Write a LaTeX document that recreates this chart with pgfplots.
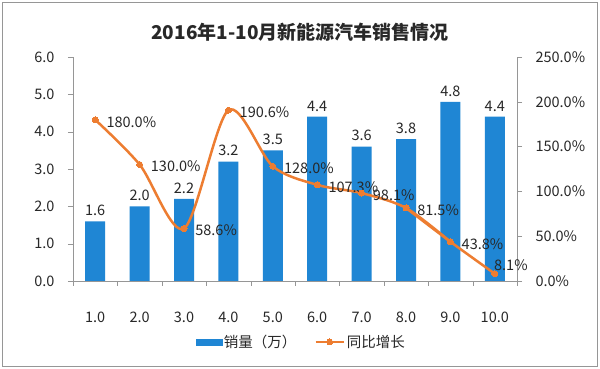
\documentclass[border=0pt]{standalone}
\usepackage{fontspec}
\setmainfont{Noto Sans CJK SC}
\usepackage{pgfplots}
\pgfplotsset{compat=1.18}
\definecolor{barblue}{RGB}{31,134,212}
\definecolor{lineorange}{RGB}{237,125,49}
\definecolor{axgray}{RGB}{150,150,150}
\definecolor{txt}{RGB}{40,40,40}
\begin{document}
\begin{tikzpicture}[x=1pt,y=1pt]
\fill[white] (0,0) rectangle (600,369);
\draw[axgray, line width=1.5pt] (2.5,2.5) rectangle (597.5,366.5);
\node[font=\bfseries\fontsize{19}{22}\selectfont, text=txt] at (300,337) {2016年1-10月新能源汽车销售情况};
\begin{axis}[
  at={(73pt,88pt)}, anchor=south west,
  scale only axis, width=444pt, height=224pt,
  xmin=0.5, xmax=10.5, ymin=0, ymax=6,
  axis y line*=left, axis x line*=bottom,
  axis line style={axgray},
  xtick={1,...,10},
  xticklabels={1.0,2.0,3.0,4.0,5.0,6.0,7.0,8.0,9.0,10.0},
  minor xtick={0.5,1.5,...,10.5},
  major x tick style={draw=none},
  minor tick length=5pt,
  minor x tick style={axgray},
  ytick={0,1,...,6},
  y tick style={axgray},
  major tick length=5pt,
  tick align=outside,
  yticklabel style={xshift=-10pt,/pgf/number format/.cd,fixed,fixed zerofill,precision=1},
  /pgf/number format/assume math mode=true,
  tick label style={font=\fontsize{14.5}{16}\selectfont, text=txt},
  xticklabel style={yshift=-22pt},
  ybar, bar width=20pt,
  nodes near coords,
  nodes near coords style={font=\fontsize{14.5}{16}\selectfont, text=txt, yshift=2pt, /pgf/number format/.cd,fixed,fixed zerofill,precision=1, /pgf/number format/assume math mode=true},
  clip=false,
]
\addplot[fill=barblue, draw=none] coordinates {
(1,1.6) (2,2.0) (3,2.2) (4,3.2) (5,3.5) (6,4.4) (7,3.6) (8,3.8) (9,4.8) (10,4.4)};
\end{axis}
\begin{axis}[
  at={(73pt,88pt)}, anchor=south west,
  scale only axis, width=444pt, height=224pt,
  xmin=0.5, xmax=10.5, ymin=0, ymax=250,
  axis y line*=right, axis x line=none,
  axis line style={axgray},
  ytick={0,50,...,250},
  y tick style={axgray},
  major tick length=5pt,
  tick align=outside,
  yticklabel={\pgfmathprintnumber[fixed,fixed zerofill,precision=1,assume math mode=true]{\tick}\%},
  yticklabel style={xshift=10pt},
  tick label style={font=\fontsize{14.5}{16}\selectfont, text=txt},
  legend style={at={(0.514,-0.272)}, anchor=center, draw=none, fill=none, legend columns=2,
    font=\fontsize{14.5}{16}\selectfont, text=txt, /tikz/every even column/.append style={column sep=16pt}},
  legend image code/.code={\draw[#1] (0pt,0pt) -- (28pt,0pt); \draw[#1, only marks] plot coordinates {(14pt,0pt)};},
  clip=false,
]
\addlegendimage{legend image code/.code={\fill[barblue] (0pt,-3pt) rectangle (26pt,3pt);}}
\addlegendentry{销量（万）}
\addplot[lineorange, line width=2.5pt, smooth, tension=0.5, mark=*, mark size=3pt, mark options={fill=lineorange, line width=0pt},
  nodes near coords={\pgfmathprintnumber[fixed,fixed zerofill,precision=1,assume math mode=true]{\pgfplotspointmeta}\%},
  nodes near coords style={anchor=west, xshift=8pt, yshift=-2pt, font=\fontsize{14.5}{16}\selectfont, text=txt}]
 coordinates {
(1,180.0) (2,130.0) (3,58.6) (4,190.6) (5,128.0) (6,107.3) (7,98.1) (8,81.5) (9,43.8)};
\addlegendentry{同比增长}
\addplot[lineorange, line width=2.5pt, smooth, tension=0.5, forget plot]
 coordinates {(8,81.5) (9,43.8) (10,8.1)};
\addplot[lineorange, mark=*, mark size=3pt, only marks, mark options={fill=lineorange, line width=0pt}, forget plot,
  nodes near coords={\pgfmathprintnumber[fixed,fixed zerofill,precision=1,assume math mode=true]{\pgfplotspointmeta}\%},
  nodes near coords style={anchor=west, xshift=-4pt, yshift=9pt, font=\fontsize{14.5}{16}\selectfont, text=txt}]
 coordinates {(10,8.1)};
\end{axis}
\end{tikzpicture}
\end{document}
